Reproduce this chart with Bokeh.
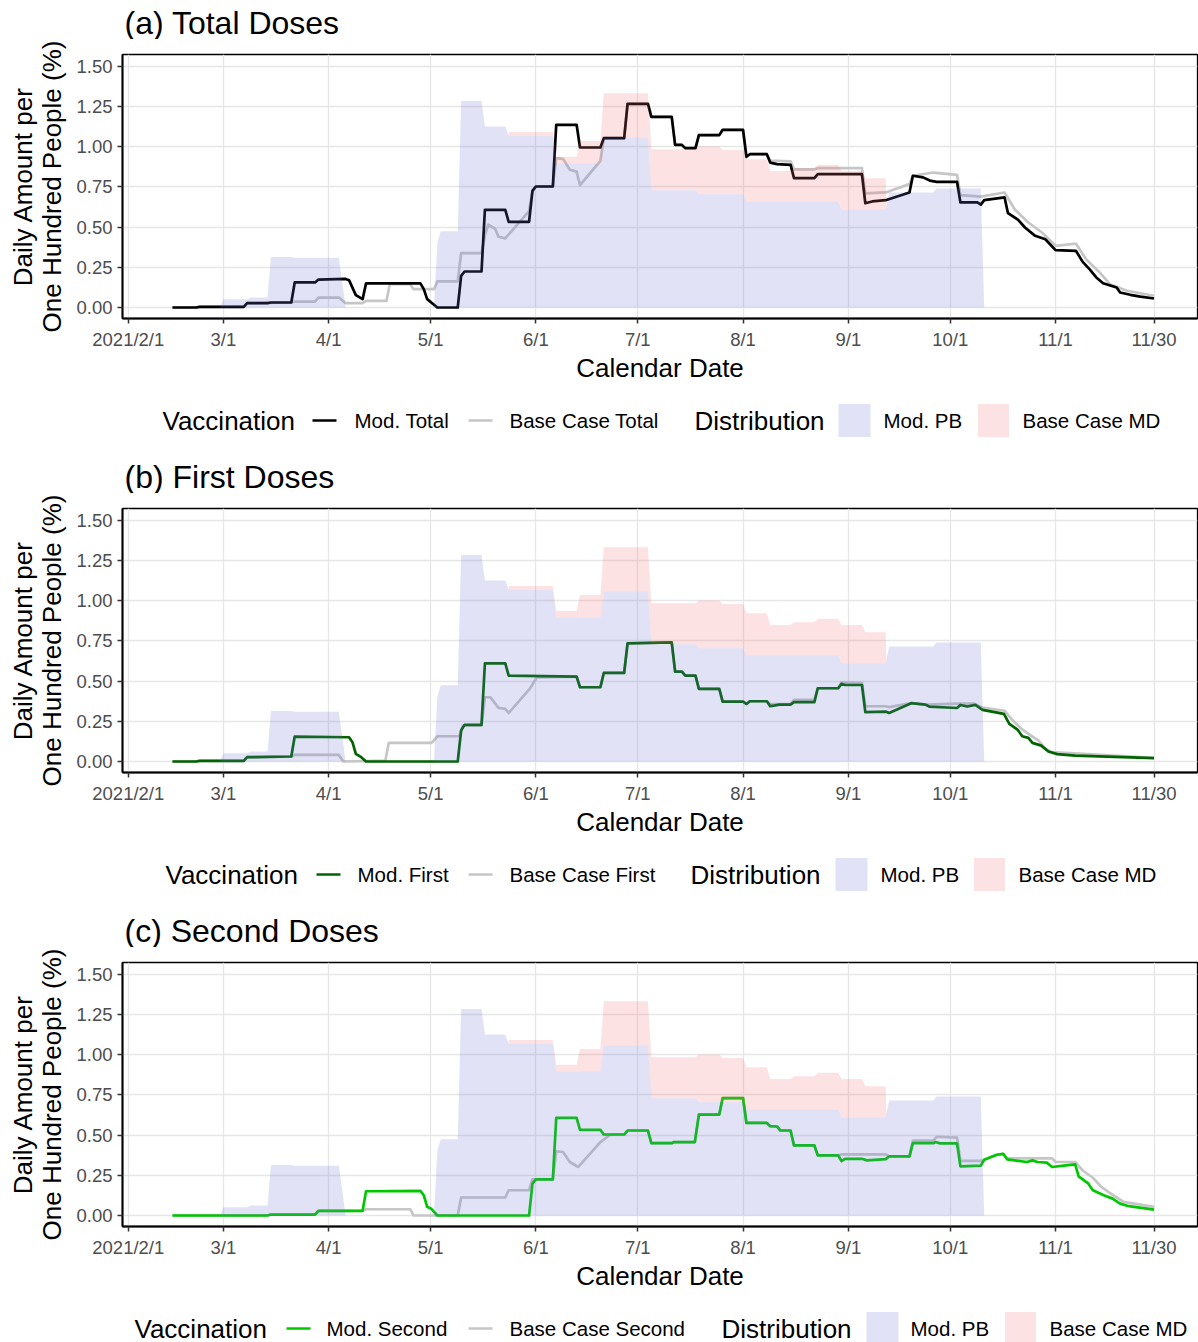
import numpy as np
from bokeh.plotting import figure
from bokeh.layouts import column
from bokeh.models import Range1d, FixedTicker, NumeralTickFormatter
from bokeh.embed import file_html
from bokeh.resources import INLINE
from bokeh.core.properties import value

FONT = "Liberation Sans"

# x axis: days counted from 2021-02-01
tick_days = [0, 28, 59, 89, 120, 150, 181, 212, 242, 273, 302]
tick_labels = ["2021/2/1", "3/1", "4/1", "5/1", "6/1", "7/1", "8/1", "9/1", "10/1", "11/1", "11/30"]
y_ticks = [0.0, 0.25, 0.5, 0.75, 1.0, 1.25, 1.5]

# Distribution blocks (start day, end day, daily amount per 100 people, %)
pb_start = [27, 28, 36, 42, 49, 64, 91, 92, 98, 105, 112, 126, 140, 154, 168, 182, 210, 224, 238, 252]
pb_end = [27, 35, 41, 48, 62, 90, 91, 97, 104, 111, 125, 139, 153, 167, 181, 209, 223, 237, 251, 252]
pb_value = [0, 0.052, 0.062, 0.315, 0.31, 0, 0.405, 0.475, 1.286, 1.127, 1.068, 0.896, 1.058,
            0.73, 0.705, 0.66, 0.61, 0.716, 0.741, 0]

md_start = [111, 112, 126, 133, 140, 154, 168, 175, 182, 189, 196, 203, 210, 217, 224]
md_end = [111, 125, 132, 139, 153, 167, 174, 181, 188, 195, 202, 209, 216, 223, 224]
md_value = [0, 1.093, 0.938, 1.037, 1.334, 0.985, 1.002, 0.98, 0.923, 0.85, 0.867, 0.888,
            0.85, 0.805, 0]

# (a) total doses
total_mod_day = [13, 20, 21, 34, 35, 41, 42, 48, 49, 55, 56, 64, 65, 67, 69, 70, 86, 87, 88, 91, 97,
                 98, 99, 104, 105, 111, 112, 118, 119, 120, 125, 126, 132, 133, 139, 140, 146, 147,
                 153, 154, 160, 161, 163, 164, 167, 168, 174, 175, 181, 182, 183, 188, 189, 191, 195,
                 196, 202, 203, 216, 217, 219, 223, 230, 231, 234, 236, 238, 244, 245, 250, 251, 252,
                 258, 259, 262, 264, 267, 270, 273, 279, 281, 283, 285, 287, 291, 292, 295, 298, 302]
total_mod_val = [0, 0, 0.004, 0.004, 0.027, 0.027, 0.031, 0.031, 0.156, 0.156, 0.174, 0.178, 0.17,
                 0.077, 0.052, 0.15, 0.15, 0.114, 0.052, 0, 0, 0.197, 0.224, 0.224, 0.608, 0.608,
                 0.533, 0.533, 0.726, 0.753, 0.753, 1.137, 1.137, 0.996, 0.996, 1.054, 1.054, 1.268,
                 1.268, 1.187, 1.187, 1.012, 1.012, 0.992, 0.992, 1.073, 1.073, 1.106, 1.106, 0.938,
                 0.954, 0.954, 0.902, 0.892, 0.888, 0.805, 0.805, 0.83, 0.83, 0.649, 0.66, 0.668,
                 0.716, 0.82, 0.81, 0.79, 0.782, 0.782, 0.654, 0.654, 0.64, 0.668, 0.685, 0.587,
                 0.546, 0.498, 0.446, 0.425, 0.357, 0.353, 0.284, 0.239, 0.187, 0.151, 0.124, 0.093,
                 0.079, 0.068, 0.056]
total_base_day = [13, 20, 21, 34, 35, 48, 49, 55, 56, 62, 64, 69, 70, 76, 77, 83, 84, 90, 91, 97, 98,
                  104, 105, 106, 108, 109, 111, 118, 119, 120, 125, 126, 128, 130, 132, 133, 139, 140,
                  146, 147, 153, 154, 160, 161, 163, 164, 167, 168, 174, 175, 181, 182, 183, 188, 189,
                  195, 196, 202, 203, 216, 217, 223, 230, 231, 237, 244, 245, 251, 258, 261, 265, 269,
                  273, 279, 282, 286, 289, 294, 302]
total_base_val = [0, 0, 0.004, 0.004, 0.027, 0.031, 0.037, 0.037, 0.062, 0.062, 0.027, 0.027, 0.041,
                  0.041, 0.145, 0.145, 0.114, 0.114, 0.162, 0.162, 0.338, 0.338, 0.45, 0.515, 0.49,
                  0.44, 0.43, 0.6, 0.726, 0.753, 0.753, 0.93, 0.925, 0.857, 0.846, 0.761, 0.913, 1.054,
                  1.054, 1.268, 1.268, 1.187, 1.187, 1.012, 1.012, 0.992, 0.992, 1.073, 1.073, 1.106,
                  1.106, 0.938, 0.954, 0.954, 0.915, 0.91, 0.86, 0.86, 0.867, 0.867, 0.71, 0.716,
                  0.768, 0.82, 0.84, 0.826, 0.70, 0.69, 0.716, 0.61, 0.529, 0.467, 0.384, 0.398, 0.3,
                  0.218, 0.145, 0.104, 0.073]

# (b) first doses
first_mod_day = [13, 20, 21, 34, 35, 48, 49, 65, 66, 67, 68.6, 70, 97, 98, 99, 104, 105, 111, 112,
                 132, 133, 139, 140, 146, 147, 160, 161, 163, 164, 167, 168, 174, 175, 181, 182, 183,
                 188, 189, 191.7, 195, 196, 202, 203, 209, 210, 211, 216, 217, 223, 224, 230.5, 234.7,
                 235.8, 244, 245, 247, 249.4, 251.5, 257.8, 259.4, 261.8, 263.2, 265, 266.2, 268.8,
                 270.9, 273.5, 278.8, 302]
first_mod_val = [0, 0, 0.004, 0.004, 0.027, 0.031, 0.155, 0.151, 0.12, 0.048, 0.027, 0, 0, 0.193,
                 0.228, 0.228, 0.611, 0.611, 0.534, 0.528, 0.462, 0.462, 0.551, 0.551, 0.735, 0.742,
                 0.559, 0.559, 0.534, 0.534, 0.452, 0.452, 0.373, 0.373, 0.358, 0.375, 0.375, 0.344,
                 0.354, 0.354, 0.369, 0.369, 0.456, 0.456, 0.483, 0.476, 0.476, 0.307, 0.311, 0.302,
                 0.363, 0.354, 0.342, 0.333, 0.352, 0.342, 0.352, 0.321, 0.296, 0.234, 0.199, 0.157,
                 0.147, 0.116, 0.099, 0.062, 0.046, 0.037, 0.021]
first_base_day = [13, 20, 21, 34, 35, 48, 49, 62, 63.3, 75.7, 76.7, 89.3, 91, 97.5, 98.5, 104, 105,
                  106.6, 109, 111, 112, 118.2, 120.3, 132, 133, 139, 140, 146, 147, 160, 161, 163, 164,
                  167, 168, 174, 175, 181, 182, 183, 188, 189, 195, 196, 202, 203, 209, 210, 216, 217,
                  223, 224, 230.5, 235, 244, 249, 251.5, 258, 260, 263, 265, 268, 270, 272, 302]
first_base_val = [0, 0, 0.004, 0.004, 0.027, 0.031, 0.041, 0.041, 0, 0.006, 0.116, 0.116, 0.157,
                  0.157, 0.224, 0.224, 0.40, 0.40, 0.334, 0.328, 0.302, 0.452, 0.524, 0.528, 0.462,
                  0.462, 0.551, 0.551, 0.735, 0.742, 0.559, 0.559, 0.534, 0.534, 0.452, 0.452, 0.373,
                  0.373, 0.358, 0.375, 0.375, 0.358, 0.358, 0.383, 0.383, 0.456, 0.456, 0.493, 0.49,
                  0.344, 0.344, 0.338, 0.363, 0.354, 0.36, 0.36, 0.335, 0.316, 0.265, 0.203, 0.172,
                  0.13, 0.079, 0.058, 0.023]

# (c) second doses
second_mod_day = [13, 41, 42, 55, 56, 69, 70, 86, 87, 88, 89.3, 91, 118, 119, 120, 125, 126, 132, 133,
                  139, 140, 146, 147, 153, 154, 160, 160.7, 166.8, 168, 174, 175, 181, 182, 188, 189,
                  191, 192, 195, 196, 202, 203, 209, 210, 211, 216, 217.5, 223, 224, 230, 231, 237,
                  237.7, 239, 244, 245, 251, 252, 255.7, 257.6, 258.8, 264.6, 266.2, 267.7, 270.4, 272,
                  276, 278.8, 279.8, 282.5, 284, 287.2, 289.8, 292, 294.6, 302]
second_mod_val = [0, 0, 0.006, 0.006, 0.029, 0.029, 0.151, 0.153, 0.126, 0.054, 0.04, 0, 0, 0.198,
                  0.225, 0.225, 0.607, 0.607, 0.533, 0.533, 0.504, 0.504, 0.529, 0.529, 0.45, 0.45,
                  0.457, 0.457, 0.628, 0.628, 0.731, 0.731, 0.576, 0.576, 0.556, 0.554, 0.529, 0.529,
                  0.436, 0.436, 0.374, 0.374, 0.339, 0.353, 0.353, 0.343, 0.351, 0.368, 0.368, 0.45,
                  0.45, 0.457, 0.449, 0.449, 0.306, 0.31, 0.347, 0.378, 0.384, 0.349, 0.333, 0.343,
                  0.333, 0.329, 0.302, 0.312, 0.318, 0.244, 0.202, 0.157, 0.126, 0.105, 0.074, 0.058,
                  0.037]
second_base_day = [13, 41, 42, 55, 56, 69, 70, 83, 84, 97, 98, 111, 112, 118, 119, 125, 126, 128, 130,
                   132.5, 139, 142, 146, 147, 153, 154, 160, 160.7, 166.8, 168, 174, 175, 181, 182, 188,
                   189, 191, 192, 195, 196, 202, 203, 209, 210, 223, 224, 230, 231, 237, 238, 244, 245,
                   251, 252, 255.7, 257.6, 258.8, 272, 273, 278.8, 281, 284, 286.5, 289, 293, 302]
second_base_val = [0, 0, 0.006, 0.006, 0.029, 0.029, 0.039, 0.039, 0, 0, 0.112, 0.112, 0.157, 0.157,
                   0.225, 0.225, 0.40, 0.395, 0.333, 0.302, 0.457, 0.504, 0.504, 0.529, 0.529, 0.45,
                   0.45, 0.457, 0.457, 0.628, 0.628, 0.731, 0.731, 0.576, 0.576, 0.556, 0.554, 0.529,
                   0.529, 0.436, 0.436, 0.374, 0.374, 0.38, 0.38, 0.368, 0.368, 0.466, 0.466, 0.49,
                   0.485, 0.34, 0.34, 0.347, 0.378, 0.384, 0.355, 0.355, 0.333, 0.333, 0.28, 0.235,
                   0.178, 0.14, 0.085, 0.054]

BASE_GREY = "#c6c6c6"
PB_COLOR = "#6a6ecd"
MD_COLOR = "#f56e78"
FILL_ALPHA = 0.2

FRAME_LEFT = 122
FRAME_RIGHT = 1197
TITLE_BAND = 39


def block_path(starts, ends, vals):
    xs, ys = [], []
    for s, e, v in zip(starts, ends, vals):
        xs += [s, e]
        ys += [v, v]
    return np.array(xs, dtype=float), np.array(ys, dtype=float)


pb_x, pb_y = block_path(pb_start, pb_end, pb_value)
md_x, md_y = block_path(md_start, md_end, md_value)
grid_days = np.arange(md_x[0], md_x[-1] + 0.001, 0.05)
pb_on_grid = np.interp(grid_days, pb_x, pb_y, left=0, right=0)
md_on_grid = np.interp(grid_days, md_x, md_y, left=0, right=0)
md_top = np.maximum(md_on_grid, pb_on_grid)


def strip(height):
    # a plain drawing band; x coordinates are page pixels, y grows downward
    q = figure(width=1198, height=height, output_backend="svg", toolbar_location=None,
               x_range=Range1d(FRAME_LEFT, FRAME_RIGHT), y_range=Range1d(height, 0),
               x_axis_type=None, y_axis_type=None,
               min_border_left=FRAME_LEFT, min_border_right=1198 - FRAME_RIGHT,
               min_border_top=0, min_border_bottom=0)
    q.grid.visible = False
    q.outline_line_color = None
    return q


def title_strip(title):
    q = strip(TITLE_BAND)
    q.text(x=[124], y=[22], text=[title], text_font=value(FONT), text_font_size="32px",
           text_baseline="middle", text_align="left", text_color="black")
    return q


def dose_panel(mod_day, mod_val, base_day, base_val, mod_color):
    p = figure(width=1198, height=390 - TITLE_BAND, output_backend="svg", toolbar_location=None,
               x_range=Range1d(-1.7, 314.8), y_range=Range1d(-0.0685, 1.5747),
               min_border_left=FRAME_LEFT, min_border_right=1198 - FRAME_RIGHT,
               min_border_top=54 - TITLE_BAND, min_border_bottom=72)

    # vaccination curves
    p.line(base_day, base_val, line_color=BASE_GREY, line_width=2.7, line_join="round")
    p.line(mod_day, mod_val, line_color=mod_color, line_width=2.7, line_join="round")
    # distribution: base-case excess over the modified plan, then modified plan
    p.varea(x=grid_days, y1=pb_on_grid, y2=md_top, fill_color=MD_COLOR, fill_alpha=FILL_ALPHA)
    p.varea(x=pb_x, y1=np.zeros_like(pb_y), y2=pb_y, fill_color=PB_COLOR, fill_alpha=FILL_ALPHA)

    p.xaxis.ticker = FixedTicker(ticks=tick_days)
    p.xaxis.major_label_overrides = {d: lab for d, lab in zip(tick_days, tick_labels)}
    p.yaxis.ticker = FixedTicker(ticks=y_ticks)
    p.yaxis.formatter = NumeralTickFormatter(format="0.00")
    p.xaxis.axis_label = "Calendar Date"
    p.yaxis.axis_label = "Daily Amount per\nOne Hundred People (%)"
    for ax in (p.xaxis, p.yaxis):
        ax.axis_label_text_font = FONT
        ax.axis_label_text_font_size = "26px"
        ax.axis_label_text_font_style = "normal"
        ax.axis_label_text_color = "black"
        ax.major_label_text_font = FONT
        ax.major_label_text_font_size = "18.5px"
        ax.major_label_text_color = "#4d4d4d"
        ax.axis_line_color = "black"
        ax.axis_line_width = 2
        ax.major_tick_line_color = "#333333"
        ax.major_tick_line_width = 1.5
        ax.major_tick_out = 5
        ax.major_tick_in = 0
        ax.minor_tick_line_color = None
        ax.major_label_standoff = 5
    p.xaxis.axis_label_standoff = 0
    p.yaxis.axis_label_standoff = 6
    p.yaxis.axis_label_text_line_height = 0.98
    p.grid.grid_line_color = "#e6e6e6"
    p.grid.grid_line_width = 1.3
    p.outline_line_color = "black"
    p.outline_line_width = 1.3
    p.background_fill_color = "white"
    p.border_fill_color = "white"
    return p


def legend_strip(height, mod_label, base_label, mod_color, pos):
    q = strip(height)
    cy = 30
    q.text(x=[pos["vac"], pos["dist"]], y=[cy, cy], text=["Vaccination", "Distribution"],
           text_font=value(FONT), text_font_size="26px", text_baseline="middle",
           text_align="left", text_color="black")
    q.text(x=[pos["mod_t"], pos["base_t"], pos["pb_t"], pos["md_t"]], y=[cy] * 4,
           text=[mod_label, base_label, "Mod. PB", "Base Case MD"],
           text_font=value(FONT), text_font_size="20.5px", text_baseline="middle",
           text_align="left", text_color="black")
    q.segment(x0=[pos["mod_k"]], y0=[cy], x1=[pos["mod_k"] + 24], y1=[cy],
              line_color=mod_color, line_width=2.7)
    q.segment(x0=[pos["base_k"]], y0=[cy], x1=[pos["base_k"] + 24], y1=[cy],
              line_color=BASE_GREY, line_width=2.7)
    q.rect(x=[pos["pb_k"] + 16], y=[cy], width=32, height=33, fill_color=PB_COLOR,
           fill_alpha=FILL_ALPHA, line_color=None)
    q.rect(x=[pos["md_k"] + 15], y=[cy], width=31, height=33, fill_color=MD_COLOR,
           fill_alpha=FILL_ALPHA, line_color=None)
    return q


ta = title_strip("(a) Total Doses")
pa = dose_panel(total_mod_day, total_mod_val, total_base_day, total_base_val, "black")
la = legend_strip(64, "Mod. Total", "Base Case Total", "black",
                  dict(vac=162, mod_k=312, mod_t=354, base_k=468, base_t=509, dist=694,
                       pb_k=838, pb_t=883, md_k=978, md_t=1022))
tb = title_strip("(b) First Doses")
pb_ = dose_panel(first_mod_day, first_mod_val, first_base_day, first_base_val, "#006400")
lb = legend_strip(64, "Mod. First", "Base Case First", "#006400",
                  dict(vac=165, mod_k=316, mod_t=357, base_k=468, base_t=509, dist=690,
                       pb_k=835, pb_t=880, md_k=974, md_t=1018))
tc = title_strip("(c) Second Doses")
pc = dose_panel(second_mod_day, second_mod_val, second_base_day, second_base_val, "#00c800")
lc = legend_strip(44, "Mod. Second", "Base Case Second", "#00c800",
                  dict(vac=134, mod_k=286, mod_t=326, base_k=468, base_t=509, dist=721,
                       pb_k=866, pb_t=910, md_k=1005, md_t=1049))

layout = column(ta, pa, la, tb, pb_, lb, tc, pc, lc, spacing=0)
open("out.html", "w").write(file_html(layout, INLINE))
